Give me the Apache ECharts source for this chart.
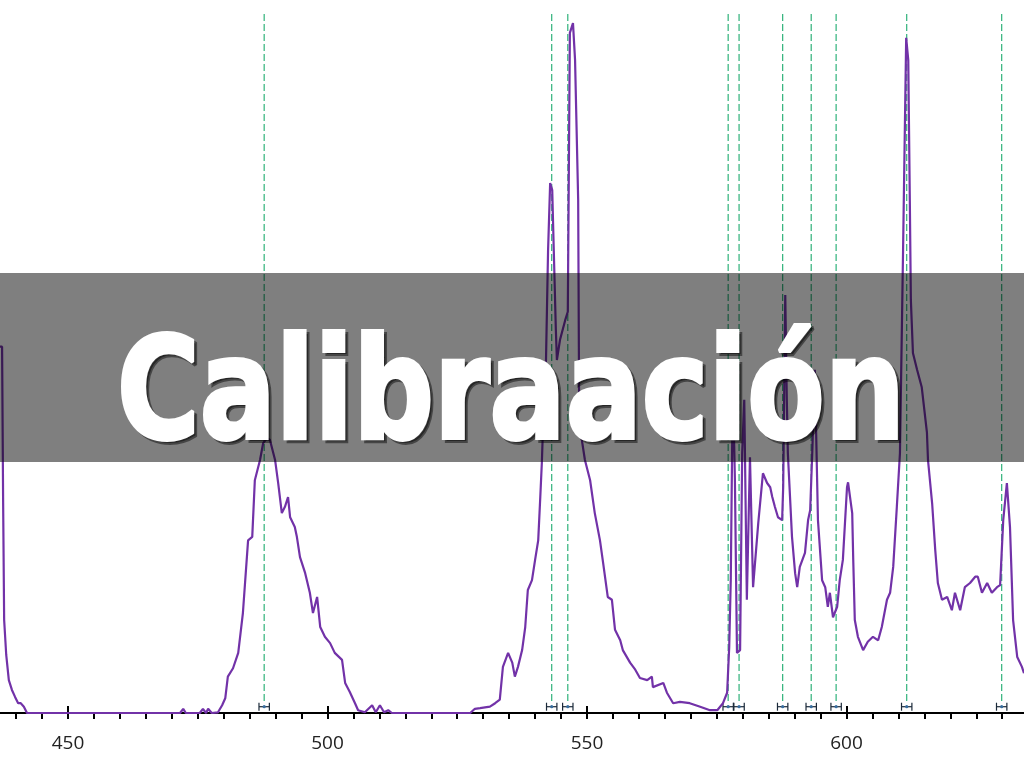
<!DOCTYPE html>
<html>
<head>
<meta charset="utf-8">
<script src="https://cdn.jsdelivr.net/npm/echarts@6/dist/echarts.min.js"></script>
<style>
html,body{margin:0;padding:0;background:#fff;}
#chart{width:1024px;height:768px;}
</style>
</head>
<body>
<div id="chart"></div>
<script>
// Spectrum (wavelength in nm, relative intensity 0-100)
const wavelength = [
436.9,437.3,437.5,437.7,438.1,438.6,439.2,439.8,440.4,440.9,441.5,442.1,456.2,471.6,472.2,472.7,475.4,476.0,476.6,477.0,
477.7,478.9,479.7,480.3,480.8,481.8,482.8,483.7,484.7,485.5,486.0,487.0,487.6,488.3,488.9,489.9,490.5,491.2,491.8,492.4,
492.8,493.7,494.1,494.7,495.7,496.6,497.2,498.0,498.6,499.5,500.5,501.4,502.8,503.4,504.3,505.3,505.9,507.2,508.6,509.3,
510.1,510.9,511.7,512.4,527.5,528.4,529.4,531.3,532.3,533.2,533.8,534.8,535.6,536.1,536.7,537.5,538.1,538.6,539.4,540.0,
540.6,541.0,541.3,541.7,542.1,542.5,542.9,543.3,543.6,544.0,544.2,544.8,545.8,546.3,546.7,547.3,547.7,548.3,548.5,549.6,
550.6,551.5,552.5,553.1,554.0,554.8,555.4,556.4,556.9,558.3,559.3,560.2,561.6,562.5,562.7,564.7,565.4,566.6,567.9,569.8,
571.8,573.7,575.1,576.2,577.0,577.4,577.7,578.1,578.5,578.9,579.5,579.9,580.3,580.8,581.4,582.0,583.0,583.9,584.7,585.3,
585.7,586.2,586.8,587.6,587.8,588.2,588.5,588.7,589.5,590.1,590.5,591.0,592.0,592.6,593.0,593.4,593.9,594.5,595.3,595.9,
596.4,596.8,597.4,598.2,598.7,599.3,600.1,600.3,601.1,601.3,601.6,602.2,603.2,604.1,605.1,606.1,606.8,607.8,608.4,609.0,
609.7,610.3,610.9,611.5,611.9,612.2,612.4,612.8,613.6,614.5,615.5,615.7,616.5,617.1,617.6,618.4,619.4,620.3,620.9,621.9,
622.8,623.8,624.8,625.3,626.1,627.1,628.0,629.0,629.6,630.2,630.9,631.5,632.1,632.9,633.8,634.2
];
const intensity = [
52.4,52.4,30.5,13.3,8.3,4.7,3.3,2.3,1.4,1.4,0.9,0,0,0,0.6,0,0,0.6,0,0.6,
0,0.1,1.1,2.1,5.2,6.4,8.6,14.3,24.7,25.2,33.3,36.2,38.6,39.3,39.1,36.2,32.9,28.6,29.5,30.9,
28.0,26.6,25.2,22.3,20.0,17.2,14.3,16.6,12.3,10.9,10.0,8.6,7.6,4.3,3.0,1.4,0.4,0.1,1.1,0.1,
1.1,0.1,0.4,0,0,0.6,0.7,0.9,1.4,1.9,6.6,8.6,7.2,5.2,6.6,9.0,12.3,17.6,19.0,21.9,
24.7,30.9,35.8,44.8,50.5,66.2,75.8,74.8,66.2,54.8,50.5,53.4,56.2,57.4,97.3,98.7,93.4,73.4,41.5,36.2,
33.3,28.6,24.7,21.5,16.6,16.2,11.9,10.4,9.0,7.2,6.2,5.0,4.7,5.2,3.7,4.3,2.9,1.4,1.6,1.4,
0.9,0.4,0.4,1.4,2.9,9.4,19.0,47.6,33.3,8.6,9.0,37.2,44.8,16.2,36.6,18.0,27.2,34.3,32.9,32.3,
30.9,29.5,28.0,27.6,32.3,59.8,44.8,37.2,25.2,20.0,18.0,20.9,22.9,27.6,29.0,37.2,49.1,27.6,19.0,18.0,
15.2,17.2,13.7,15.2,19.0,21.9,32.3,33.0,28.6,21.9,13.3,10.9,9.0,10.2,10.9,10.4,12.3,16.2,17.2,20.9,
29.5,37.2,66.2,96.6,93.4,73.4,59.1,51.5,49.1,46.6,40.1,36.2,30.0,23.3,18.6,16.2,16.6,14.7,17.2,14.7,
18.0,18.6,19.5,19.5,17.2,18.6,17.2,18.0,18.3,27.6,32.9,26.6,13.3,8.0,6.6,5.7
];
// Reference (calibration) lines, nm, with uncertainty (nm)
const refLines = [487.8, 543.2, 546.3, 577.2, 579.3, 587.7, 593.2, 598.0, 611.6, 629.9];
const refUncert = [1.0, 1.0, 1.0, 1.0, 1.0, 1.0, 1.0, 1.0, 1.0, 1.0];
// Axis ticks
const majorTicks = [450, 500, 550, 600];
const minorTicks = [440,445,450,455,460,465,470,475,480,485,490,495,500,505,510,515,520,525,530,535,540,545,550,555,560,565,570,575,580,585,590,595,600,605,610,615,620,625,630];
const titleText = 'Calibraación';

const xMin = 436.9, xMax = 634.2;
const seriesData = wavelength.map((w, i) => [w, intensity[i]]);
const lineData = refLines.map((w, i) => [w, refUncert[i]]);

const titleFont = {
  fontSize: 141,
  fontWeight: 'bold',
  fontFamily: '"DejaVu Sans", sans-serif',
  align: 'center',
  verticalAlign: 'middle',
  lineWidth: 4
};

const chart = echarts.init(document.getElementById('chart'), null, {renderer: 'canvas'});
chart.setOption({
  animation: false,
  backgroundColor: '#ffffff',
  grid: {left: 0, right: 0, top: 14, bottom: 55, containLabel: false},
  xAxis: [{
    type: 'value', min: xMin, max: xMax, position: 'bottom',
    axisLine: {show: true, onZero: false, lineStyle: {color: '#000', width: 2}},
    axisTick: {show: true, inside: false, length: 6, lineStyle: {color: '#000', width: 2}, customValues: minorTicks},
    axisLabel: {show: true, customValues: majorTicks, margin: 21, color: '#222', fontSize: 19, fontFamily: '"Open Sans", "Noto Sans", sans-serif'},
    splitLine: {show: false}
  }, {
    type: 'value', min: xMin, max: xMax, position: 'bottom', offset: 0,
    axisLine: {show: false, onZero: false},
    axisTick: {show: true, inside: true, length: 7, lineStyle: {color: '#000', width: 2}, customValues: majorTicks},
    axisLabel: {show: false},
    splitLine: {show: false}
  }],
  yAxis: {type: 'value', min: 0, max: 100, show: false},
  series: [{
    type: 'custom',
    xAxisIndex: 0,
    z: 1,
    data: lineData,
    renderItem: function (params, api) {
      const x = api.value(0), u = api.value(1);
      const top = api.coord([x, 100]);
      const bar = api.coord([x, 0.9]);
      const l = api.coord([x - u, 0.9]);
      const r = api.coord([x + u, 0.9]);
      return {
        type: 'group',
        children: [
          {type: 'line', shape: {x1: top[0], y1: top[1], x2: bar[0], y2: bar[1] - 3},
           style: {stroke: '#2fb27a', lineWidth: 1.2, lineDash: [7, 3]}},
          {type: 'line', shape: {x1: l[0], y1: l[1], x2: r[0], y2: r[1]},
           style: {stroke: '#1b2a3a', lineWidth: 1.2}},
          {type: 'line', shape: {x1: l[0], y1: l[1] - 4, x2: l[0], y2: l[1] + 4},
           style: {stroke: '#1b2a3a', lineWidth: 1.2}},
          {type: 'line', shape: {x1: r[0], y1: r[1] - 4, x2: r[0], y2: r[1] + 4},
           style: {stroke: '#1b2a3a', lineWidth: 1.2}},
          {type: 'circle', shape: {cx: bar[0], cy: bar[1], r: 1.6},
           style: {fill: '#3a6fa0'}}
        ]
      };
    }
  }, {
    type: 'line',
    xAxisIndex: 0,
    z: 2,
    data: seriesData,
    showSymbol: false,
    symbol: 'none',
    lineStyle: {color: '#7232a8', width: 2.2},
    clip: true
  }],
  graphic: [{
    type: 'rect', z: 100,
    shape: {x: 0, y: 273, width: 1024, height: 189},
    style: {fill: 'rgba(0,0,0,0.5)'}
  }, {
    type: 'text', z: 101,
    x: 514, y: 404,
    scaleX: 0.80,
    style: Object.assign({text: titleText, fill: 'rgba(0,0,0,0.45)', stroke: 'rgba(0,0,0,0.45)'}, titleFont)
  }, {
    type: 'text', z: 102,
    x: 511, y: 401,
    scaleX: 0.80,
    style: Object.assign({text: titleText, fill: '#ffffff', stroke: '#ffffff'}, titleFont)
  }]
});
</script>
</body>
</html>
